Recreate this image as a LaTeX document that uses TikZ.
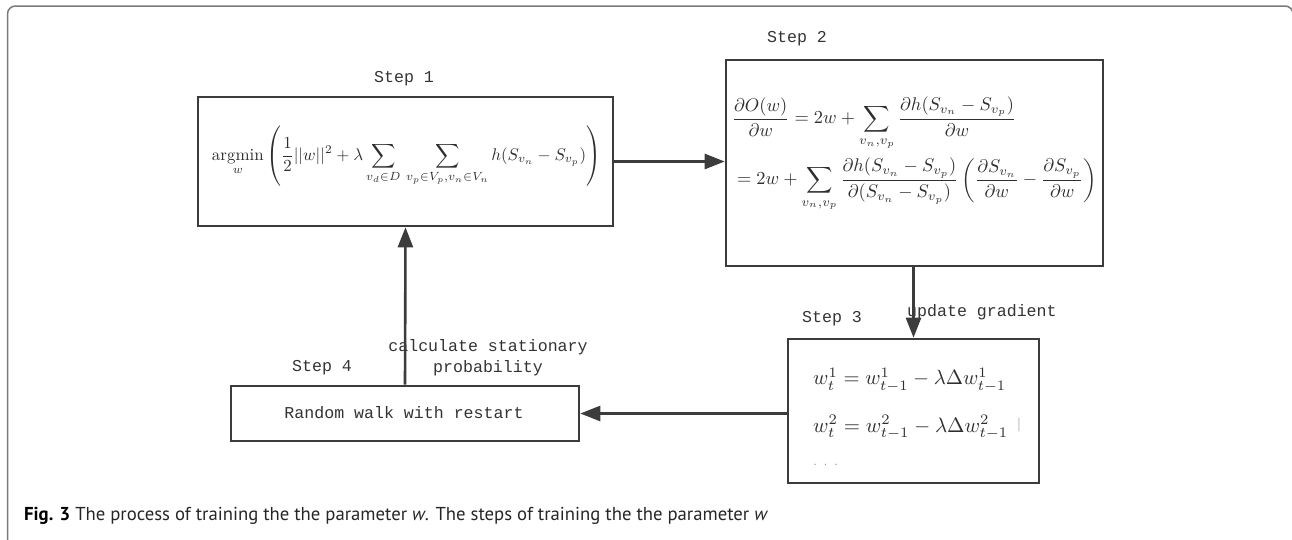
\documentclass[tikz,border=0pt]{standalone}
\usepackage{amsmath}
\usepackage{fontspec}
\usetikzlibrary{arrows.meta}
\newfontfamily\monofont{Liberation Mono}
\newfontfamily\capfont{PT Sans}
\definecolor{linegray}{HTML}{3C3C3C}
\definecolor{framegray}{HTML}{7A7A7A}
\definecolor{txtgray}{HTML}{333333}
\definecolor{mathgray}{HTML}{2E2E2E}
\tikzset{
  box/.style={draw=linegray, line width=2.6pt, fill=none, inner sep=0pt},
  steplabel/.style={font=\monofont\fontsize{16.6}{21}\selectfont, text=txtgray, inner sep=0pt},
  conn/.style={draw=linegray, line width=2.6pt, -{Triangle[length=20pt,width=15pt]}},
  mathtext/.style={text=mathgray, inner sep=0pt},
}
\begin{document}
\begin{tikzpicture}[x=1pt,y=-1pt]
\useasboundingbox (0,0) rectangle (1292,539);
\begin{scope}
\clip (0,0) rectangle (1292,539);
\draw[framegray, line width=1.5pt, rounded corners=8pt] (7.5,560) -- (7.5,6) -- (1293,6) -- (1293,560);
\end{scope}

% boxes
\node[box, minimum width=415pt, minimum height=129pt] (s1) at (405.5,161.5) {};
\node[box, minimum width=377pt, minimum height=206pt] (s2) at (914.5,163) {};
\node[box, minimum width=251pt, minimum height=144pt] (s3) at (913.5,411) {};
\node[box, minimum width=348pt, minimum height=55pt] (s4) at (405,413.5) {};

% step labels
\node[steplabel] (l1) at (404,79) {Step 1};
\node[steplabel] (l2) at (797,39) {Step 2};
\node[steplabel] (l3) at (832,319) {Step 3};
\node[steplabel] (l4) at (322,368) {Step 4};

% contents
\node[mathtext] (m1) at (406.5,156) {\resizebox{389pt}{!}{$\displaystyle \mathop{\mathrm{argmin}}\limits_{w}\left(\frac{1}{2}||w||^2+\lambda\sum_{v_d\in D}\,\sum_{v_p\in V_p,v_n\in V_n} h(S_{v_n}-S_{v_p})\right)$}};
\node[mathtext] (m2) at (914.5,154) {\resizebox{365pt}{!}{$\displaystyle \begin{aligned}
&\frac{\partial O(w)}{\partial w}=2w+\sum_{v_n,v_p}\frac{\partial h(S_{v_n}-S_{v_p})}{\partial w}\\
&=2w+\sum_{v_n,v_p}\frac{\partial h(S_{v_n}-S_{v_p})}{\partial (S_{v_n}-S_{v_p})}\left(\frac{\partial S_{v_n}}{\partial w}-\frac{\partial S_{v_p}}{\partial w}\right)
\end{aligned}$}};
\node[mathtext, anchor=west] (m3a) at (813,380) {\resizebox{193pt}{!}{$w_t^1=w_{t-1}^1-\lambda\Delta w_{t-1}^1$}};
\node[mathtext, anchor=west] (m3b) at (813,427) {\resizebox{195pt}{!}{$w_t^2=w_{t-1}^2-\lambda\Delta w_{t-1}^2$}};
\node[text=gray, inner sep=0pt, font=\fontsize{14}{14}\selectfont] (bar) at (1019,425) {|};
\node[text=gray, inner sep=0pt, anchor=west, font=\fontsize{16}{16}\selectfont] (dots) at (813,465) {. . .};
\node[steplabel] (rw) at (404,413) {Random walk with restart};

% connector labels
\node[steplabel, align=center] (calc) at (488,358) {calculate stationary\\probability};
\node[steplabel, anchor=west] (upd) at (907,312) {update gradient};

% connectors
\draw[conn] (s1.east) -- (s1.east -| s2.west);
\draw[conn] (s3.north |- s2.south) -- (s3.north);
\draw[conn] (s3.west |- s4.east) -- (s4.east);
\draw[conn] (s4.north) -- (s1.south);

% caption
\node[anchor=base west, inner sep=0pt, text=black!85, font=\capfont\fontsize{18.7}{22}\selectfont] (cap) at (24,520) {\textbf{\color{black}Fig. 3} The process of training the the parameter \textit{w}. The steps of training the the parameter \textit{w}};
\end{tikzpicture}
\end{document}
